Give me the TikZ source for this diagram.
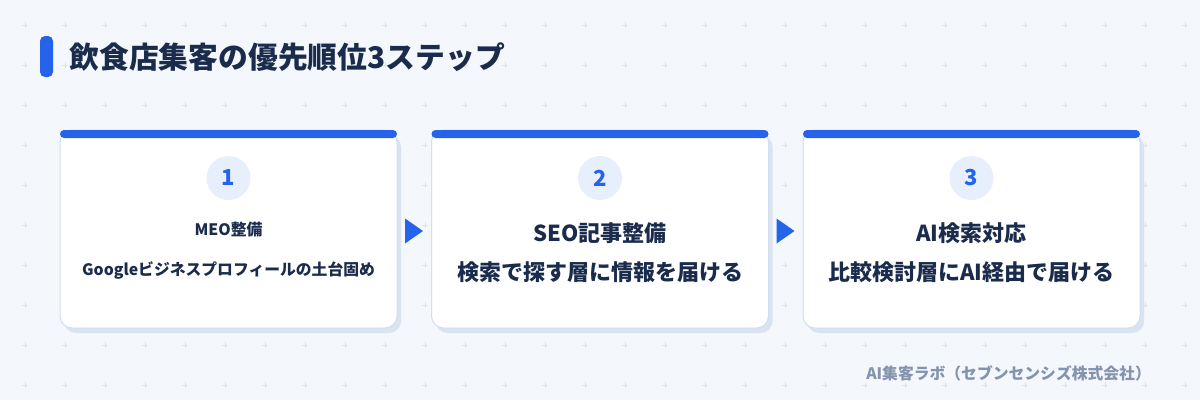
\documentclass[tikz,border=0pt]{standalone}
\usepackage{fontspec}
\setmainfont{Noto Sans CJK JP}
\usetikzlibrary{shadows}
\definecolor{bgc}{HTML}{F4F7FC}
\definecolor{gridc}{HTML}{DCE3EF}
\definecolor{navy}{HTML}{1A2B4B}
\definecolor{stepblue}{HTML}{2563EB}
\definecolor{circc}{HTML}{E7EFFC}
\definecolor{cardline}{HTML}{D3DEEE}
\definecolor{shadowc}{HTML}{DAE3F0}
\definecolor{footc}{HTML}{8494AD}

\begin{document}
\begin{tikzpicture}[x=1pt,y=-1pt,line cap=round,line join=round,
	card/.style={draw=cardline,line width=1pt,fill=white,rounded corners=12pt,minimum width=337pt,minimum height=198pt,
		general shadow={fill=shadowc,shadow xshift=4pt,shadow yshift=-5pt}},
	topbar/.style={fill=stepblue,rounded corners=4pt},
	stepnum/.style={circle,fill=circc,minimum size=44pt,inner sep=0pt,text=stepblue,font=\bfseries\fontsize{22}{26}\selectfont},
	bigtext/.style={text=navy,font=\bfseries\fontsize{22}{26}\selectfont},
	smalltext/.style={text=navy,font=\bfseries\fontsize{15.8}{19}\selectfont}]
	\useasboundingbox (0,0) rectangle (1200,400);
	\fill [bgc] (0,0) rectangle (1200,400);
	% background plus grid
	\foreach \gx in {25,65,...,1185}
		\foreach \gy in {25,65,...,385}
			\draw [gridc,line width=0.8pt] (\gx-2.5,\gy) -- (\gx+2.5,\gy) (\gx,\gy-2.5) -- (\gx,\gy+2.5);
	% heading
	\fill [stepblue,rounded corners=5pt] (40,36) rectangle (53,77);
	\node [anchor=west,text=navy,font=\bfseries\fontsize{29.8}{34}\selectfont] (heading) at (66,57) {飲食店集客の優先順位3ステップ};
	% cards
	\node [card] (card1) at (228.5,229) {};
	\node [card] (card2) at (600,229) {};
	\node [card] (card3) at (971.5,229) {};
	\fill [topbar] (60,130) rectangle (397,138);
	\fill [topbar] (431.5,130) rectangle (768.5,138);
	\fill [topbar] (803,130) rectangle (1140,138);
	% step numbers
	\node [stepnum] (num1) at (228.5,178) {1};
	\node [stepnum] (num2) at (600,178) {2};
	\node [stepnum] (num3) at (971.5,178) {3};
	% texts
	\node [smalltext] (title1) at (228.5,230) {MEO整備};
	\node [smalltext] (sub1) at (228.5,270) {Googleビジネスプロフィールの土台固め};
	\node [bigtext] (title2) at (600,233) {SEO記事整備};
	\node [bigtext] (sub2) at (600,272) {検索で探す層に情報を届ける};
	\node [bigtext] (title3) at (971.5,233) {AI検索対応};
	\node [bigtext] (sub3) at (971.5,272) {比較検討層にAI経由で届ける};
	% arrows between cards
	\fill [stepblue] (405,218.5) -- (423,231) -- (405,243.5) -- cycle;
	\fill [stepblue] (776.5,218.5) -- (794.5,231) -- (776.5,243.5) -- cycle;
	% credit
	\node [anchor=east,inner sep=0pt,text=footc,font=\bfseries\fontsize{15.8}{19}\selectfont] (credit) at (1151,373) {AI集客ラボ（セブンセンシズ株式会社）};
\end{tikzpicture}
\end{document}
